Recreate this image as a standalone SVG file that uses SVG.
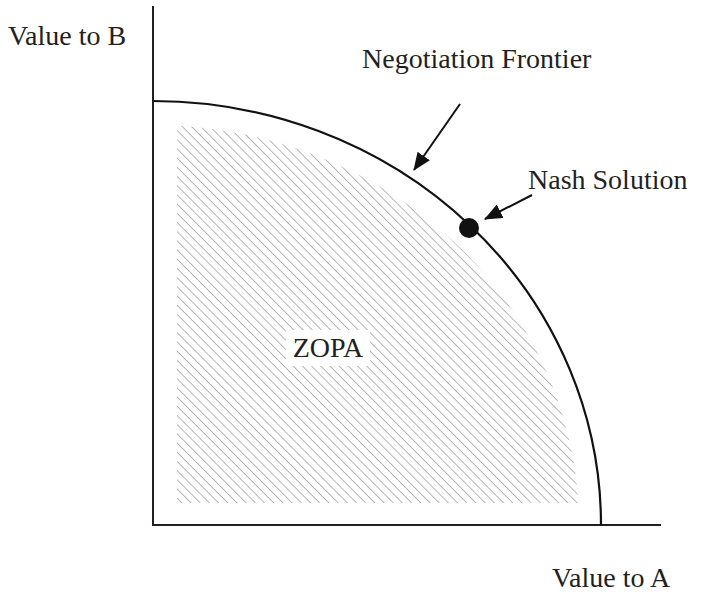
<svg xmlns="http://www.w3.org/2000/svg" width="714" height="592" viewBox="0 0 714 592">
<style>
.t{font-family:'Liberation Serif','Times New Roman',serif;font-size:28px;fill:#231f20}
.ax{stroke:#231f20;stroke-width:2;fill:none}
.fr{stroke:#111;stroke-width:2.2;fill:none}
.ar{stroke:#111;stroke-width:2;fill:none}
</style>
<defs>
<pattern id="hatch" patternUnits="userSpaceOnUse" width="6.5" height="6.5" patternTransform="rotate(-45)">
<line x1="0" y1="0" x2="0" y2="6.5" stroke="#7a7a7a" stroke-width="1.1"/>
</pattern>
<clipPath id="zc">
<rect x="177" y="100" width="420" height="403"/>
</clipPath>
<marker id="ah" markerWidth="18" markerHeight="15" refX="17" refY="7.5" orient="auto" markerUnits="userSpaceOnUse">
<path d="M0,0 L18,7.5 L0,15 Z" fill="#111"/>
</marker>
</defs>
<g id="zopa-region">
<path d="M153,125 A426,400 0 0 1 579,525 L153,525 Z" fill="url(#hatch)" clip-path="url(#zc)"/>
</g>
<g id="axes">
<line class="ax" x1="153" y1="6" x2="153" y2="526"/>
<line class="ax" x1="152" y1="525" x2="661" y2="525"/>
</g>
<g id="frontier">
<path class="fr" d="M153,101 A448,424 0 0 1 601,525"/>
</g>
<g id="nash">
<circle cx="469" cy="228" r="10" fill="#111"/>
</g>
<g id="connectors">
<line class="ar" x1="460" y1="104" x2="414" y2="170" marker-end="url(#ah)"/>
<line class="ar" x1="532" y1="195" x2="485" y2="219" marker-end="url(#ah)"/>
</g>
<g id="labels">
<text class="t" x="8" y="45">Value to B</text>
<text class="t" x="362" y="68">Negotiation Frontier</text>
<text class="t" x="528" y="189">Nash Solution</text>
<text class="t" x="552" y="587">Value to A</text>
<g id="zopa-label">
<rect x="286" y="330" width="84" height="36" fill="#fff"/>
<text class="t" x="328" y="357" text-anchor="middle">ZOPA</text>
</g>
</g>
</svg>
